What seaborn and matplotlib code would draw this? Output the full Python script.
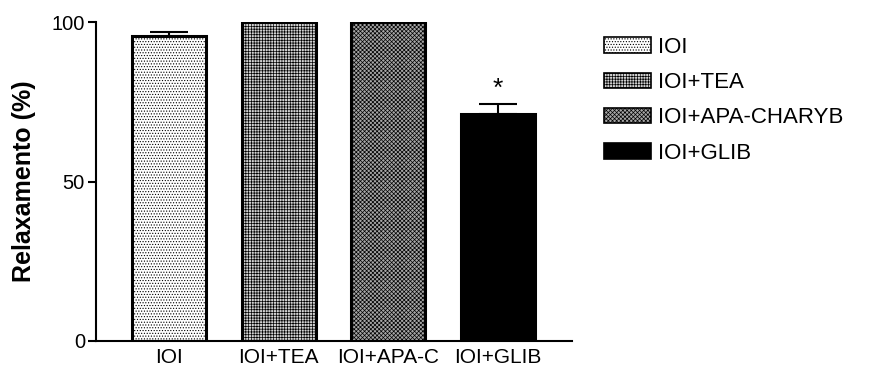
import matplotlib
matplotlib.use("Agg")
import matplotlib.pyplot as plt
import seaborn as sns
import pandas as pd
import numpy as np

categories = ["IOI", "IOI+TEA", "IOI+APA-C", "IOI+GLIB"]
legend_labels = ["IOI", "IOI+TEA", "IOI+APA-CHARYB", "IOI+GLIB"]
means = [95.5, 100.0, 100.0, 71.3]
errors = [1.4, 0.0, 0.0, 3.0]
significance = ["", "", "", "*"]

sns.set_style("ticks")
plt.rcParams['font.family'] = ['Liberation Sans', 'DejaVu Sans']
plt.rcParams['hatch.linewidth'] = 0.5
plt.rcParams['text.color'] = 'black'
plt.rcParams['axes.labelcolor'] = 'black'
plt.rcParams['xtick.color'] = 'black'
plt.rcParams['ytick.color'] = 'black'
plt.rcParams['axes.edgecolor'] = 'black'

df = pd.DataFrame({"grupo": categories, "relax": means})

fig = plt.figure(figsize=(8.78, 3.71), dpi=100)
ax = fig.add_axes([96/878, 1-341/371, (572-96)/878, (341-22)/371])

sns.barplot(data=df, x="grupo", y="relax", order=categories, ax=ax,
            width=0.675, color="white", errorbar=None, saturation=1)

faces = ["white", "#d2d2d2", "#a6a6a6", "black"]
hatches = ["......", "++++++", "xxxxxxxx", ""]
hatch_cols = ["#8a8a8a", "#a4a4a4", "#2a2a2a", "black"]
for p, fc, h, hc in zip(ax.patches, faces, hatches, hatch_cols):
    p.set_facecolor(fc)
    p.set_hatch(h)
    p._hatch_color = matplotlib.colors.to_rgba(hc)
    p.set_edgecolor("black")
    p.set_linewidth(2.2)

xs = np.arange(len(categories))
for x, m, e, s in zip(xs, means, errors, significance):
    if e > 0:
        ax.errorbar([x], [m], yerr=[[0], [e]], fmt="none", ecolor="black",
                    elinewidth=1.5, capsize=13.7, capthick=1.5, zorder=1)
    if s:
        ax.text(x, m + e + 1.0, s, ha="center", va="bottom", fontsize=19)

ax.set_xlim(-0.665, 3.675)
ax.set_ylim(0, 100)
ax.set_yticks([0, 50, 100])
ax.set_xlabel("")
ax.set_ylabel("Relaxamento (%)", fontsize=18, fontweight="bold", labelpad=11)
ax.tick_params(axis="y", labelsize=14.5, width=1.5, length=6, pad=2)
ax.tick_params(axis="x", labelsize=15, length=0, pad=5)
for sp in ["top", "right"]:
    ax.spines[sp].set_visible(False)
for sp in ["left", "bottom"]:
    ax.spines[sp].set_linewidth(1.5)

handles = []
for p in ax.patches[:4]:
    hp = matplotlib.patches.Patch(facecolor=p.get_facecolor(), hatch=p.get_hatch(),
                                  edgecolor="black", linewidth=1.2)
    hp._hatch_color = p._hatch_color
    handles.append(hp)
fig.legend(handles, legend_labels, loc="upper left", bbox_to_anchor=(604/878, 1-37/371),
           frameon=False, fontsize=16, handlelength=2.1, handleheight=0.7,
           handletextpad=0.35, labelspacing=0.64, borderaxespad=0, borderpad=0)

fig.savefig("out.png", dpi=100)
